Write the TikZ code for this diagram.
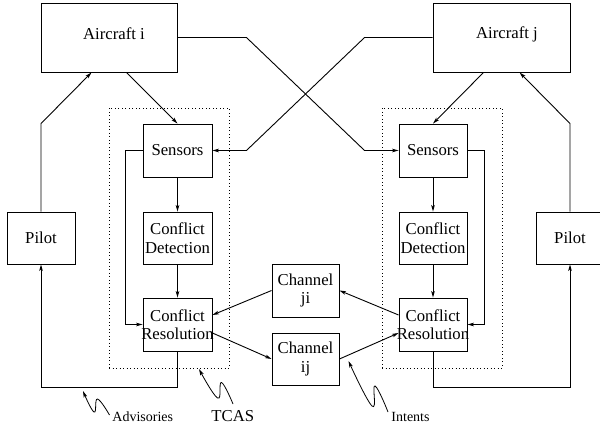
\documentclass[tikz,border=0pt]{standalone}
\usepackage{fontspec}
\setmainfont{Liberation Serif}
\usetikzlibrary{arrows.meta,calc}
\begin{document}
\begin{tikzpicture}[x=1pt,y=-1pt,
  line width=0.9pt,
  box/.style={draw, rectangle, inner sep=0pt},
  txt/.style={inner sep=0pt, align=center, font=\fontsize{16.7}{18.5}\selectfont},
  small/.style={inner sep=0pt, font=\fontsize{14}{16}\selectfont},
  arr/.style={-{Stealth[length=6.5pt,width=3.6pt,inset=1.6pt]}},
  tcasbox/.style={draw, dash pattern=on 0.9pt off 2.6pt, line width=0.8pt, inner sep=0pt}]
\clip (0,0) rectangle (600,430);
% dotted TCAS boxes
\node[tcasbox, minimum width=120pt, minimum height=260pt] (ti) at (169,238) {};
\node[tcasbox, minimum width=120pt, minimum height=260pt] (tj) at (442,238) {};
% aircraft
\node[box, minimum width=136pt, minimum height=69pt] (ai) at (109,37.5) {};
\node[txt] (aitxt) at (114,34) {Aircraft i};
\node[box, minimum width=137pt, minimum height=69pt] (aj) at (501.5,37.5) {};
\node[txt] (ajtxt) at (507,34) {Aircraft j};
% pilots
\node[box, minimum width=68pt, minimum height=52pt] (pi) at (41,238) {};
\node[txt] (pitxt) at (pi) {Pilot};
\node[box, minimum width=68pt, minimum height=52pt] (pj) at (570,238) {};
\node[txt] (pjtxt) at (pj) {Pilot};
% TCAS i
\node[box, minimum width=69pt, minimum height=53pt] (si) at (177.5,150.5) {};
\node[txt] (sitxt) at (si) {Sensors};
\node[box, minimum width=69pt, minimum height=52pt] (cdi) at (177.5,238) {};
\node[txt] (cditxt) at (cdi) {Conflict\\Detection};
\node[box, minimum width=69pt, minimum height=53pt] (cri) at (177.5,324.5) {};
\node[txt] (critxt) at (cri) {Conflict\\Resolution};
% TCAS j
\node[box, minimum width=68pt, minimum height=53pt] (sj) at (433,150.5) {};
\node[txt] (sjtxt) at (sj) {Sensors};
\node[box, minimum width=68pt, minimum height=52pt] (cdj) at (433,238) {};
\node[txt] (cdjtxt) at (cdj) {Conflict\\Detection};
\node[box, minimum width=68pt, minimum height=53pt] (crj) at (433,324.5) {};
\node[txt] (crjtxt) at (crj) {Conflict\\Resolution};
% channels
\node[box, minimum width=67pt, minimum height=53pt] (chji) at (305.5,290.5) {};
\node[txt] (chjitxt) at (chji) {Channel\\ji};
\node[box, minimum width=67pt, minimum height=52pt] (chij) at (305.5,359) {};
\node[txt] (chijtxt) at (chij) {Channel\\ij};
% connectors aircraft -> sensors
\draw[arr] ($(ai.south west)+(86,0)$) -- (si.north);
\draw[arr] ($(aj.south west)+(51,0)$) -- (sj.north);
\draw[arr] (ai.east) -- ++(69,0) -- ($(sj.west)+(-34,0)$) -- (sj.west);
\draw[arr] (aj.west) -- ++(-68,0) -- ($(si.east)+(34,0)$) -- (si.east);
% pilots -> aircraft
\draw[arr] (pi.north) -- ++(0,-88) -- ($(ai.south west)+(51,0)$);
\draw[arr] (pj.north) -- ++(0,-88) -- ($(aj.south west)+(87,0)$);
% internal TCAS i
\draw[arr] (si.south) -- (cdi.north);
\draw[arr] (cdi.south) -- (cri.north);
\draw[arr] (si.west) -- ++(-17,0) |- (cri.west);
\draw[arr] (cri.south) -- ++(0,36) -| (pi.south);
% internal TCAS j
\draw[arr] (sj.south) -- (cdj.north);
\draw[arr] (cdj.south) -- (crj.north);
\draw[arr] (sj.east) -- ++(17,0) |- (crj.east);
\draw[arr] (crj.south) -- ++(0,36) -| (pj.south);
% channels
\draw[arr] (chji.west) -- ($(cri.east)+(0,-9.5)$);
\draw[arr] ($(cri.east)+(0,8.5)$) -- (chij.west);
\draw[arr] ($(crj.west)+(0,-9.5)$) -- (chji.east);
\draw[arr] (chij.east) -- ($(crj.west)+(0,8.5)$);
% labels
\node[small, anchor=west] (adv) at (112,417) {Advisories};
\node[txt, anchor=west] (tcas) at (211,416) {TCAS};
\node[small, anchor=west] (int) at (391,417) {Intents};
\coordinate (advtip) at (83,391);
\coordinate (tcastip) at (199,369);
\coordinate (inttip) at (348.5,361);
\draw[arr, line width=0.8pt] plot[smooth, tension=0.75] coordinates {(109.5,415) (97.5,399) (94,412) (advtip)};
\draw[arr, line width=0.8pt] plot[smooth, tension=0.75] coordinates {(233,404) (221.5,382.5) (217.5,398) (tcastip)};
\draw[arr, line width=0.8pt] plot[smooth, tension=0.75] coordinates {(388,412) (375,386) (372,406) (inttip)};
\end{tikzpicture}
\end{document}
